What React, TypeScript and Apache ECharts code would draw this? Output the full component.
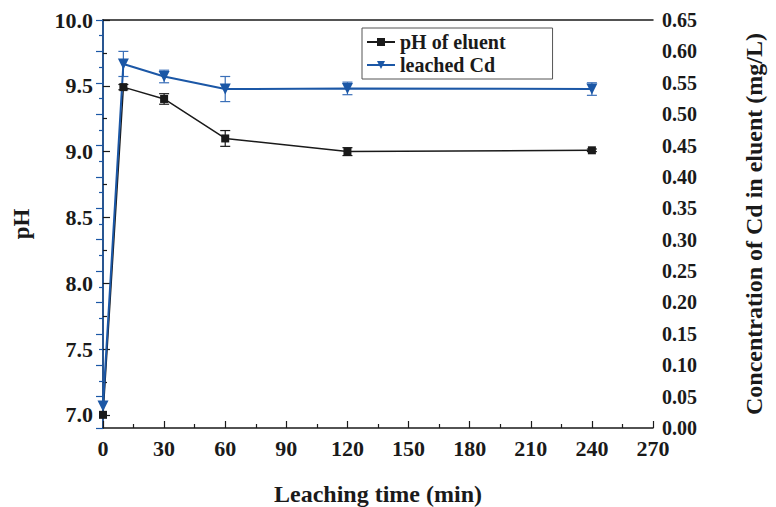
import React, { useEffect, useRef } from "react";
import * as echarts from "echarts";

const times = [0, 10, 30, 60, 120, 240];
const phValues = [7.0, 9.49, 9.4, 9.1, 9.0, 9.01];
const phErrors = [0.0, 0.02, 0.04, 0.06, 0.03, 0.01];
const cdValues = [0.035, 0.58, 0.56, 0.54, 0.541, 0.54];
const cdErrors = [0.0, 0.02, 0.01, 0.02, 0.01, 0.01];
const phTickLabels = [7.0, 7.5, 8.0, 8.5, 9.0, 9.5, 10.0];
const phMinorTicks = [7.25, 7.75, 8.25, 8.75, 9.25, 9.75];

const FONT = "Liberation Serif";
const BLACK = "#1a1a1a";
const BLUE = "#1b57a6";

function errorBarSeries(values: number[], errs: number[], yAxisIndex: number, color: string) {
  const data = times.map((t, i) => [t, values[i] - errs[i], values[i] + errs[i]]).filter((d, i) => errs[i] > 0);
  return {
    type: "custom",
    yAxisIndex,
    z: 1,
    silent: true,
    data,
    renderItem: (params: any, api: any) => {
      const x = api.value(0);
      const lo = api.coord([x, api.value(1)]);
      const hi = api.coord([x, api.value(2)]);
      const w = 5;
      const style = { stroke: color, lineWidth: 1.2 };
      return {
        type: "group",
        children: [
          { type: "line", shape: { x1: lo[0], y1: lo[1], x2: hi[0], y2: hi[1] }, style },
          { type: "line", shape: { x1: lo[0] - w, y1: lo[1], x2: lo[0] + w, y2: lo[1] }, style },
          { type: "line", shape: { x1: hi[0] - w, y1: hi[1], x2: hi[0] + w, y2: hi[1] }, style },
        ],
      };
    },
  };
}

export default function App() {
  const ref = useRef<HTMLDivElement>(null);
  useEffect(() => {
    const chart = echarts.init(ref.current!, null, { renderer: "svg" });
    const labelStyle = { fontFamily: FONT, fontWeight: "bold" as const, color: BLACK };
    chart.setOption({
      animation: false,
      backgroundColor: "#ffffff",
      grid: { left: 103, right: 123, top: 20, bottom: 79, containLabel: false, outerBoundsMode: "none" },
      legend: {
        left: 362,
        top: 28,
        orient: "vertical",
        itemGap: 3,
        itemWidth: 28,
        itemHeight: 10,
        padding: [4, 47, 4, 4],
        borderColor: "#555",
        borderWidth: 1,
        textStyle: { ...labelStyle, fontSize: 20 },
        data: ["pH of eluent", "leached Cd"],
      },
      xAxis: [
        {
          type: "value",
          min: 0,
          max: 270,
          interval: 30,
          name: "Leaching time (min)",
          nameLocation: "middle",
          nameGap: 54,
          nameTextStyle: { ...labelStyle, fontSize: 24 },
          axisLine: { lineStyle: { color: BLACK, width: 1.5 } },
          axisTick: { inside: true, length: 7, lineStyle: { color: BLACK, width: 1.2 } },
          minorTick: { show: true, splitNumber: 2, length: 4, lineStyle: { color: BLACK, width: 1.2 } },
          axisLabel: { ...labelStyle, fontSize: 22, margin: 9 },
          splitLine: { show: false },
        },
        {
          type: "value",
          position: "top",
          min: 0,
          max: 270,
          axisLine: { show: true, onZero: false, lineStyle: { color: BLACK, width: 1.5 } },
          axisTick: { show: false },
          axisLabel: { show: false },
          splitLine: { show: false },
        },
      ],
      yAxis: [
        {
          type: "value",
          min: 6.9,
          max: 10,
          position: "left",
          name: "pH",
          nameLocation: "middle",
          nameGap: 70,
          nameTextStyle: { ...labelStyle, fontSize: 23 },
          axisLine: { show: true, lineStyle: { color: BLACK, width: 1.5 } },
          axisTick: { show: true, inside: true, length: 7, customValues: phTickLabels, lineStyle: { color: BLACK, width: 1.2 } },
          axisLabel: {
            ...labelStyle,
            fontSize: 22,
            margin: 10,
            customValues: phTickLabels,
            formatter: (v: number) => v.toFixed(1),
          },
          splitLine: { show: false },
        },
        {
          type: "value",
          min: 0,
          max: 0.65,
          interval: 0.05,
          position: "right",
          name: "Concentration of Cd in eluent (mg/L)",
          nameLocation: "middle",
          nameGap: 89,
          nameRotate: 90,
          nameTextStyle: { ...labelStyle, fontSize: 24 },
          axisLine: { show: true, lineStyle: { color: BLUE, width: 1.5 } },
          axisTick: { inside: true, length: 7, lineStyle: { color: BLUE, width: 1.2 } },
          minorTick: { show: true, splitNumber: 2, length: 4, lineStyle: { color: BLUE, width: 1.2 } },
          axisLabel: { ...labelStyle, fontSize: 20, margin: 9, formatter: (v: number) => v.toFixed(2) },
          splitLine: { show: false },
        },
        {
          type: "value",
          min: 6.9,
          max: 10,
          position: "left",
          axisLine: { show: false },
          axisTick: { show: true, inside: true, length: 4, customValues: phMinorTicks, lineStyle: { color: BLACK, width: 1.2 } },
          axisLabel: { show: false, customValues: phMinorTicks },
          splitLine: { show: false },
        },
      ],
      series: [
        errorBarSeries(phValues, phErrors, 0, BLACK),
        errorBarSeries(cdValues, cdErrors, 1, "#3a6fb8"),
        {
          name: "pH of eluent",
          type: "line",
          yAxisIndex: 0,
          z: 3,
          data: times.map((t, i) => [t, phValues[i]]),
          symbol: "rect",
          symbolSize: 8,
          lineStyle: { color: BLACK, width: 1.5 },
          itemStyle: { color: BLACK },
        },
        {
          name: "leached Cd",
          type: "line",
          yAxisIndex: 1,
          z: 3,
          data: times.map((t, i) => [t, cdValues[i]]),
          symbol: "triangle",
          symbolRotate: 180,
          symbolSize: 11,
          lineStyle: { color: BLUE, width: 2 },
          itemStyle: { color: BLUE },
        },
      ],
    });
    return () => chart.dispose();
  }, []);
  return <div ref={ref} style={{ position: "fixed", left: 0, top: 0, width: 776, height: 507 }} />;
}
